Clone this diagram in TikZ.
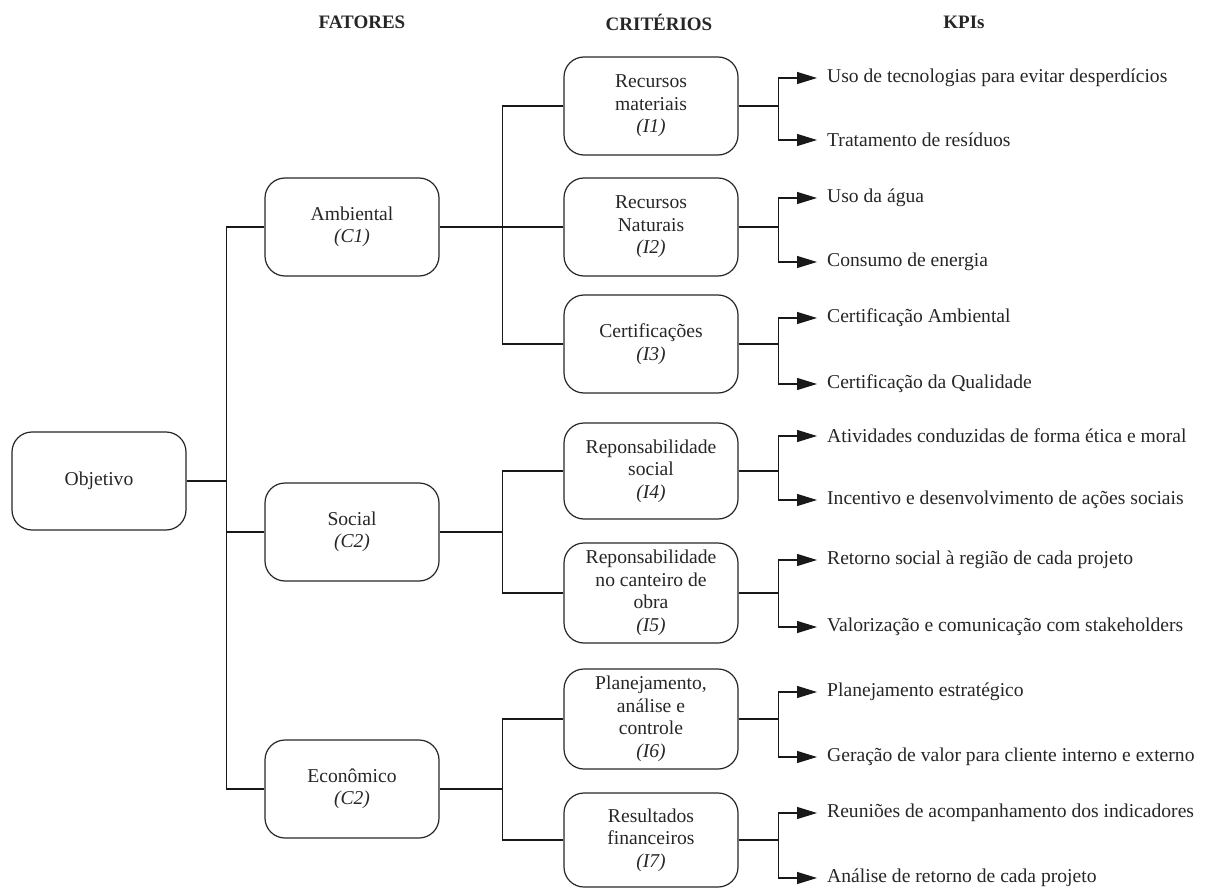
\documentclass[tikz,border=0pt]{standalone}
\usepackage{fontspec}
\setmainfont{Liberation Serif}
\usetikzlibrary{arrows.meta}
\begin{document}
\begin{tikzpicture}[x=1pt,y=-1pt,
  font=\fontsize{19.6}{22.5}\selectfont,
  every node/.style={text=black!85},
  box/.style={draw=black!85,line width=1.2pt,rounded corners=20pt,minimum width=174pt,align=center,inner sep=2pt},
  fbox/.style={box,minimum height=98pt},
  cbox/.style={box,minimum height=98pt},
  kpi/.style={anchor=west,inner xsep=10pt,inner ysep=0pt},
  head/.style={font=\fontsize{19}{22}\selectfont\bfseries},
  conn/.style={draw=black!90,line width=1.2pt},
  arr/.style={conn,-{Triangle[length=20pt,width=12pt]}}
]
\useasboundingbox (0,0) rectangle (1211,888);

% headings
\node[head] (h1) at (362,22) {FATORES};
\node[head] (h2) at (659,22) {CRITÉRIOS};
\node[head] (h3) at (964,22) {KPIs};

% objective
\node[fbox] (obj) at (99,481) {Objetivo};

% factors
\node[fbox] (amb) at (352,227) {Ambiental\\\textit{(C1)}};
\node[fbox] (soc) at (352,532) {Social\\\textit{(C2)}};
\node[fbox] (eco) at (352,789) {Econômico\\\textit{(C2)}};

% criteria
\node[cbox] (i1) at (651,106) {Recursos\\materiais\\\textit{(I1)}};
\node[cbox] (i2) at (651,227) {Recursos\\Naturais\\\textit{(I2)}};
\node[cbox] (i3) at (651,344) {Certificações\\\textit{(I3)}};
\node[cbox,minimum height=96pt] (i4) at (651,471) {Reponsabilidade\\social\\\textit{(I4)}};
\node[cbox,minimum height=100pt] (i5) at (651,593) {Reponsabilidade\\no canteiro de\\obra\\\textit{(I5)}};
\node[cbox,minimum height=100pt] (i6) at (651,719) {Planejamento,\\análise e\\controle\\\textit{(I6)}};
\node[cbox,minimum height=94pt] (i7) at (651,840) {Resultados\\financeiros\\\textit{(I7)}};

% KPIs
\node[kpi] (k1a) at (817,78) {Uso de tecnologias para evitar desperdícios};
\node[kpi] (k1b) at (817,140) {Tratamento de resíduos};
\node[kpi] (k2a) at (817,198) {Uso da água};
\node[kpi] (k2b) at (817,262) {Consumo de energia};
\node[kpi] (k3a) at (817,318) {Certificação Ambiental};
\node[kpi] (k3b) at (817,384) {Certificação da Qualidade};
\node[kpi] (k4a) at (817,436) {Atividades conduzidas de forma ética e moral};
\node[kpi] (k4b) at (817,500) {Incentivo e desenvolvimento de ações sociais};
\node[kpi] (k5a) at (817,560) {Retorno social à região de cada projeto};
\node[kpi] (k5b) at (817,627) {Valorização e comunicação com stakeholders};
\node[kpi] (k6a) at (817,692) {Planejamento estratégico};
\node[kpi] (k6b) at (817,757) {Geração de valor para cliente interno e externo};
\node[kpi] (k7a) at (817,813) {Reuniões de acompanhamento dos indicadores};
\node[kpi] (k7b) at (817,878) {Análise de retorno de cada projeto};

% objective -> factors
\draw[conn] (obj.east) -- ++(40,0) |- (amb.west);
\draw[conn] (obj.east) -- ++(40,0) |- (soc.west);
\draw[conn] (obj.east) -- ++(40,0) |- (eco.west);

% factors -> criteria
\draw[conn] (amb.east) -- ++(63,0) |- (i1.west);
\draw[conn] (amb.east) -- (i2.west);
\draw[conn] (amb.east) -- ++(63,0) |- (i3.west);
\draw[conn] (soc.east) -- ++(63,0) |- (i4.west);
\draw[conn] (soc.east) -- ++(63,0) |- (i5.west);
\draw[conn] (eco.east) -- ++(63,0) |- (i6.west);
\draw[conn] (eco.east) -- ++(63,0) |- (i7.west);

% criteria -> KPIs
\foreach \c in {1,...,7}{
  \draw[arr] (i\c.east) -- ++(40,0) |- (k\c a.west);
  \draw[arr] (i\c.east) -- ++(40,0) |- (k\c b.west);
}
\end{tikzpicture}
\end{document}
